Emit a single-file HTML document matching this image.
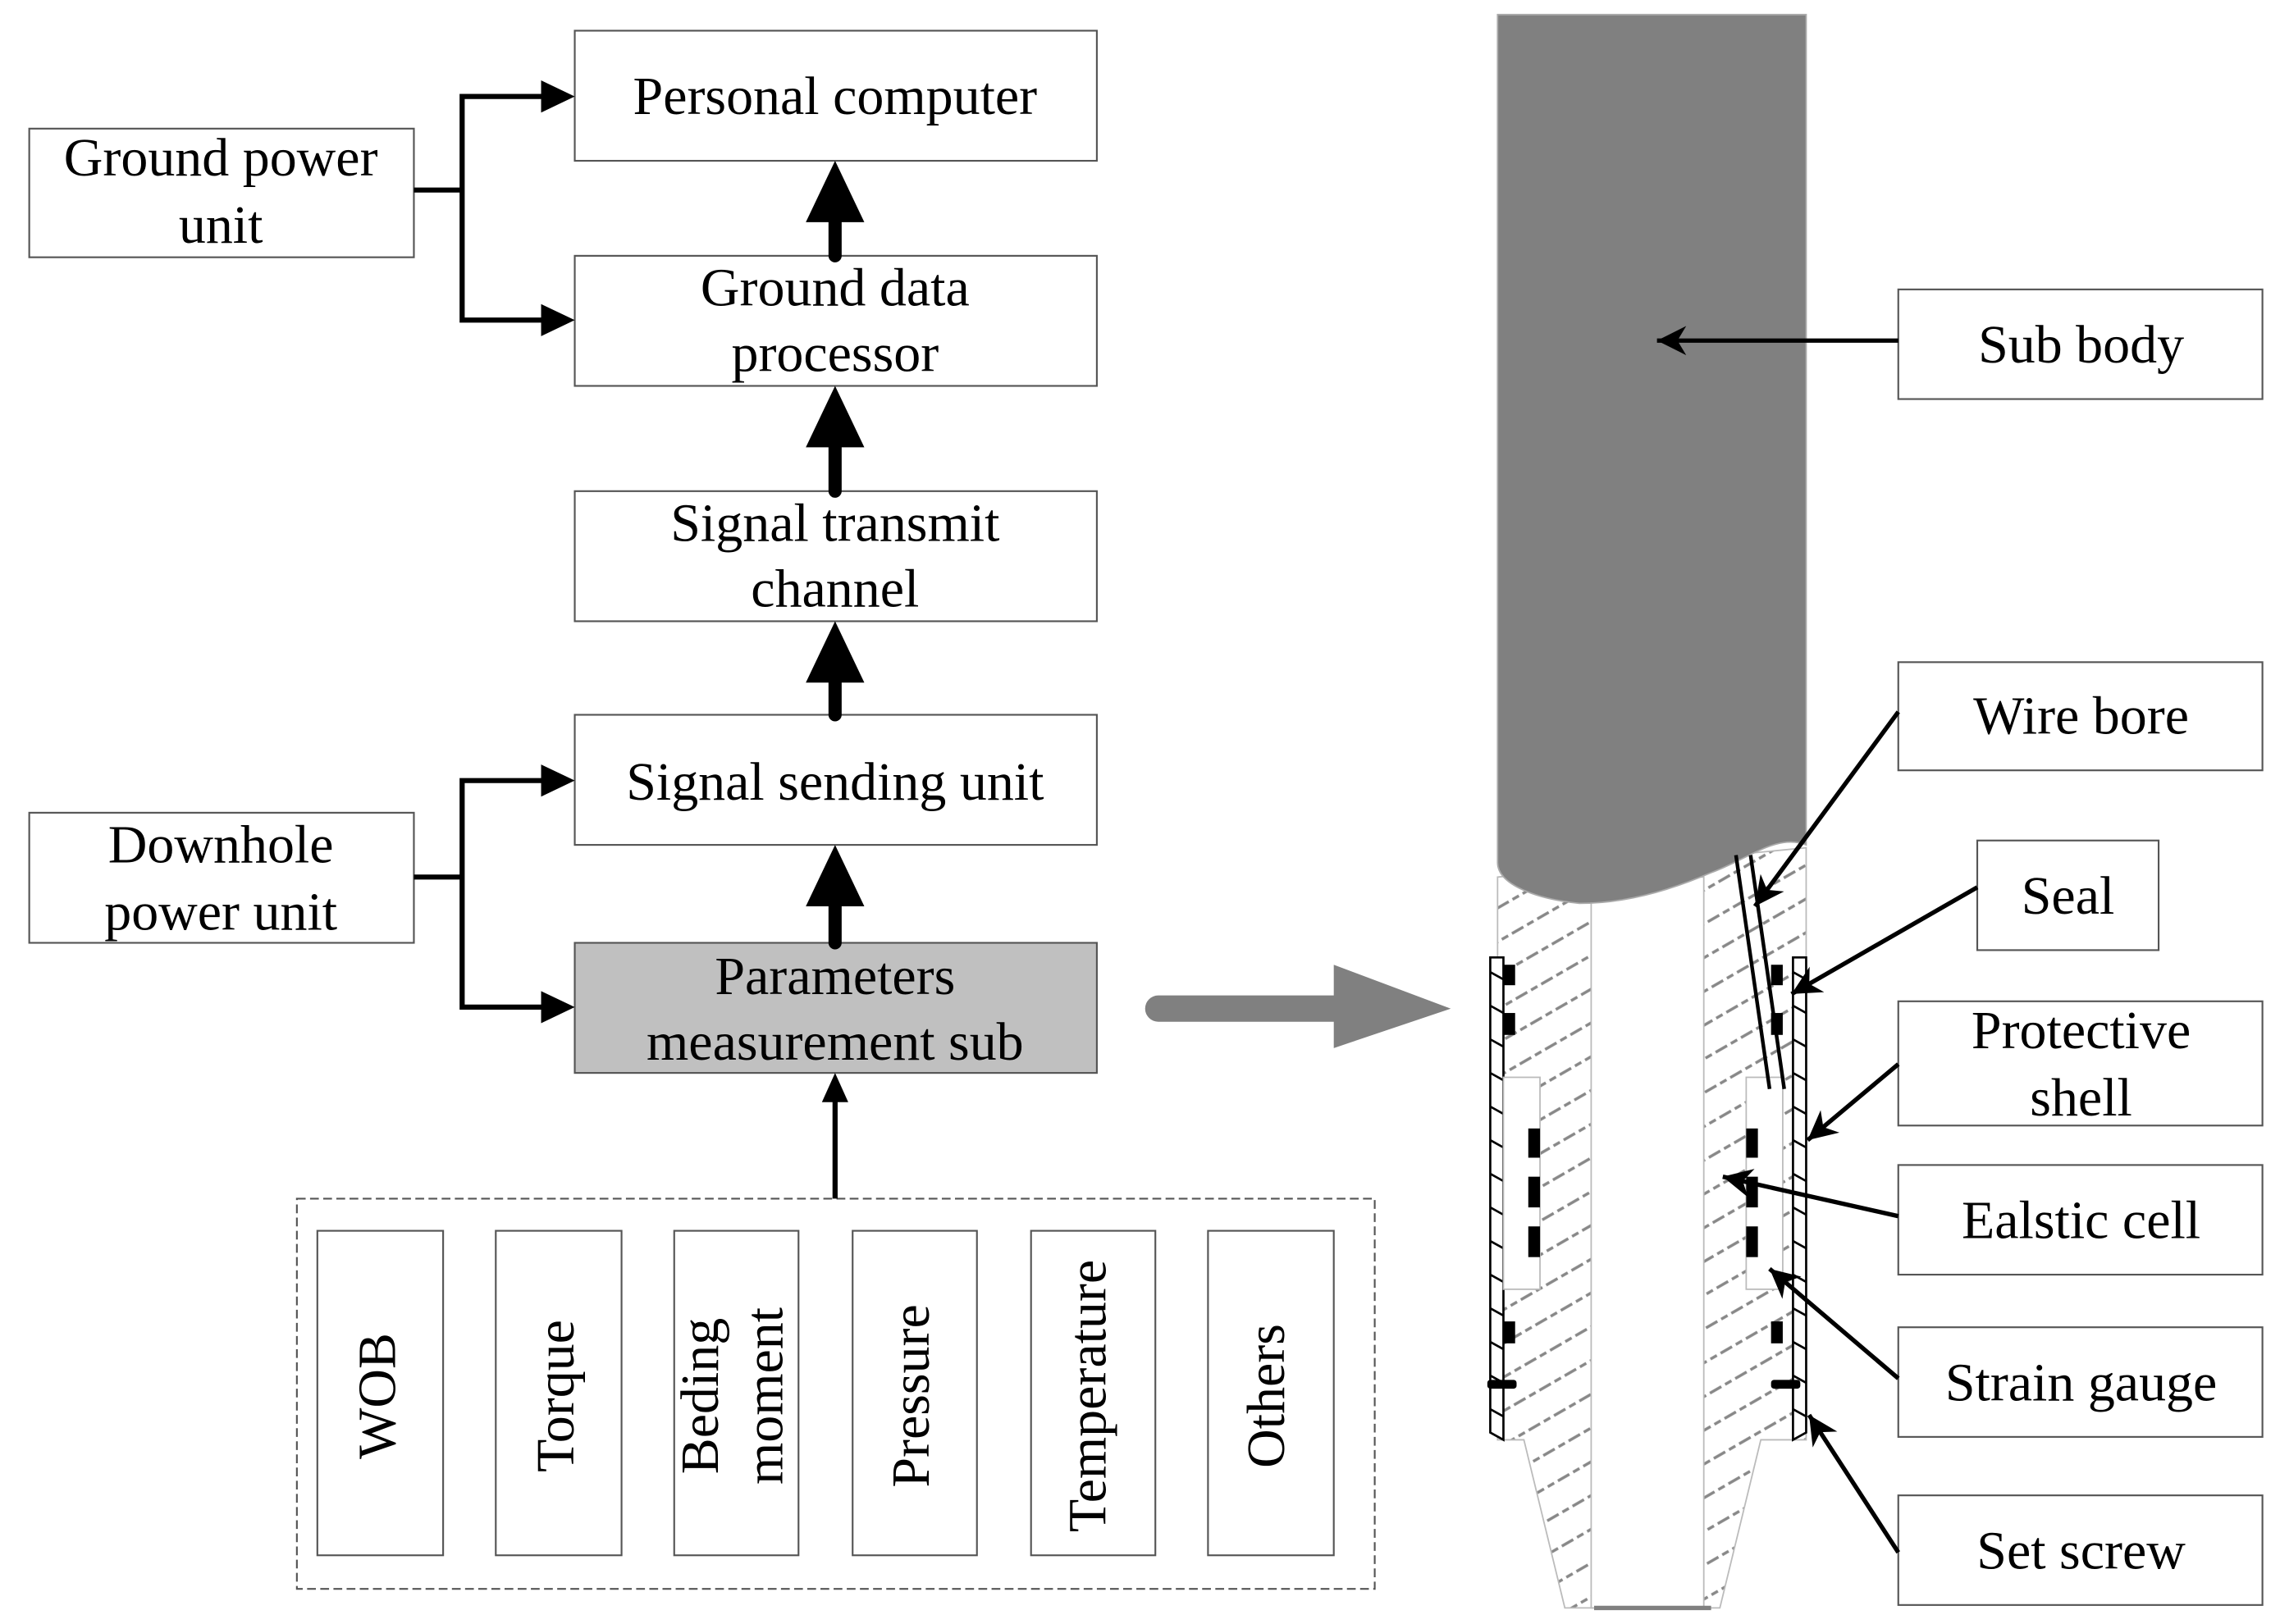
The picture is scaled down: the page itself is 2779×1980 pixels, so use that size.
<!DOCTYPE html>
<html><head><meta charset="utf-8"><style>html,body{margin:0;padding:0;background:#fff}svg{display:block}</style></head>
<body>
<svg width="2779" height="1980" viewBox="0 0 1559 1111" preserveAspectRatio="none" xmlns="http://www.w3.org/2000/svg" font-family="'Liberation Serif', serif" font-size="37" text-anchor="middle">
<defs>
<pattern id="h" patternUnits="userSpaceOnUse" width="20" height="20" patternTransform="rotate(-30)">
<line x1="0" y1="10" x2="20" y2="10" stroke="#888" stroke-width="2" stroke-dasharray="5,3"/>
</pattern>
<marker id="b" viewBox="0 0 10 10" refX="10" refY="5" markerWidth="26" markerHeight="20" orient="auto" markerUnits="userSpaceOnUse"><path d="M0,0L10,5L0,10L3,5z"/></marker>
</defs>
<g fill="#fff" stroke="#555" stroke-width="1.2">
<rect x="393" y="21" width="357" height="89"/>
<rect x="20" y="88" width="263" height="88"/>
<rect x="393" y="175" width="357" height="89"/>
<rect x="393" y="336" width="357" height="89"/>
<rect x="393" y="489" width="357" height="89"/>
<rect x="20" y="556" width="263" height="89"/>
<rect x="393" y="645" width="357" height="89" fill="#c0c0c0"/>
<rect x="203" y="820" width="737" height="267" stroke-dasharray="6,3"/>
<rect x="217" y="842" width="86" height="222"/>
<rect x="339" y="842" width="86" height="222"/>
<rect x="461" y="842" width="85" height="222"/>
<rect x="583" y="842" width="85" height="222"/>
<rect x="705" y="842" width="85" height="222"/>
<rect x="826" y="842" width="86" height="222"/>
<rect x="1298" y="198" width="249" height="75"/>
<rect x="1298" y="453" width="249" height="74"/>
<rect x="1352" y="575" width="124" height="75"/>
<rect x="1298" y="685" width="249" height="85"/>
<rect x="1298" y="797" width="249" height="75"/>
<rect x="1298" y="908" width="249" height="75"/>
<rect x="1298" y="1023" width="249" height="75"/>
</g>
<g fill="#000">
<text x="571" y="78">Personal computer</text>
<text x="151" y="120">Ground power</text><text x="151" y="166">unit</text>
<text x="571" y="209">Ground data</text><text x="571" y="254">processor</text>
<text x="571" y="370">Signal transmit</text><text x="571" y="415">channel</text>
<text x="571" y="547">Signal sending unit</text>
<text x="151" y="590">Downhole</text><text x="151" y="636">power unit</text>
<text x="571" y="680">Parameters</text><text x="571" y="725">measurement sub</text>
<text transform="translate(270,955) rotate(-90)">WOB</text>
<text transform="translate(392,955) rotate(-90)">Torque</text>
<text transform="translate(491,955) rotate(-90)">Beding</text>
<text transform="translate(535,955) rotate(-90)">moment</text>
<text transform="translate(635,955) rotate(-90)">Pressure</text>
<text transform="translate(756,955) rotate(-90)">Temperature</text>
<text transform="translate(878,955) rotate(-90)">Others</text>
<text x="1423" y="248">Sub body</text>
<text x="1423" y="502">Wire bore</text>
<text x="1414" y="625">Seal</text>
<text x="1423" y="717">Protective</text><text x="1423" y="763">shell</text>
<text x="1423" y="847">Ealstic cell</text>
<text x="1423" y="958">Strain gauge</text>
<text x="1423" y="1073">Set screw</text>
</g>
<g stroke="#000" stroke-width="3.5" fill="none">
<polyline points="283,130 316,130"/><polyline points="372,66 316,66 316,219 372,219"/>
<polyline points="283,600 316,600"/><polyline points="372,534 316,534 316,689 372,689"/>
<line x1="571" y1="820" x2="571" y2="752"/>
</g>
<g fill="#000">
<path d="M370,55L393,66L370,77z"/><path d="M370,208L393,219L370,230z"/>
<path d="M370,523L393,534L370,545z"/><path d="M370,678L393,689L370,700z"/>
<path d="M562,754L571,734L580,754z"/>
</g>
<g stroke="#000" stroke-width="9" stroke-linecap="round">
<line x1="571" y1="175" x2="571" y2="145"/>
<line x1="571" y1="336" x2="571" y2="300"/>
<line x1="571" y1="489" x2="571" y2="455"/>
<line x1="571" y1="645" x2="571" y2="610"/>
</g>
<g fill="#000">
<path d="M551,152L571,110L591,152z"/>
<path d="M551,306L571,264L591,306z"/>
<path d="M551,467L571,425L591,467z"/>
<path d="M551,620L571,578L591,620z"/>
</g>
<line x1="792" y1="690" x2="915" y2="690" stroke="#808080" stroke-width="18" stroke-linecap="round"/>
<path d="M912,660L992,690L912,717z" fill="#808080"/>
<path d="M1024,600 L1024,985 L1042,985 L1070,1100 L1176,1100 L1204,985 L1235,985 L1235,580 Z" fill="url(#h)" stroke="#bbb" stroke-width="1"/>
<rect x="1088" y="600" width="77" height="500" fill="#fff" stroke="#bbb" stroke-width="1"/>
<line x1="1090" y1="1100" x2="1170" y2="1100" stroke="#808080" stroke-width="3"/>
<path d="M1024,10 L1235,10 L1235,578 C1215,570 1195,588 1170,597 C1140,610 1110,618 1080,618 C1050,615 1024,605 1024,590 Z" fill="#808080" stroke="#aaa" stroke-width="1"/>
<g fill="#fff" stroke="#000" stroke-width="1.5">
<path d="M1019,655L1028,655L1028,985L1019,980Z"/>
<path d="M1226,655L1235,655L1235,980L1226,985Z"/>
</g>
<g stroke="#000" stroke-width="1.5">
<path d="M1019,665l9,5M1019,688l9,5M1019,711l9,5M1019,734l9,5M1019,757l9,5M1019,780l9,5M1019,803l9,5M1019,826l9,5M1019,849l9,5M1019,872l9,5M1019,895l9,5M1019,918l9,5M1019,941l9,5M1019,964l9,5"/>
<path d="M1226,665l9,5M1226,688l9,5M1226,711l9,5M1226,734l9,5M1226,757l9,5M1226,780l9,5M1226,803l9,5M1226,826l9,5M1226,849l9,5M1226,872l9,5M1226,895l9,5M1226,918l9,5M1226,941l9,5M1226,964l9,5"/>
</g>
<rect x="1028" y="737" width="25" height="145" fill="#fff" stroke="#bbb" stroke-width="1"/>
<rect x="1194" y="737" width="25" height="145" fill="#fff" stroke="#bbb" stroke-width="1"/>
<g fill="#000">
<rect x="1028" y="660" width="8" height="14"/><rect x="1028" y="693" width="8" height="15"/><rect x="1028" y="904" width="8" height="15"/>
<rect x="1211" y="660" width="8" height="14"/><rect x="1211" y="693" width="8" height="15"/><rect x="1211" y="904" width="8" height="15"/>
<rect x="1045" y="772" width="8" height="20"/><rect x="1045" y="805" width="8" height="21"/><rect x="1045" y="839" width="8" height="21"/>
<rect x="1194" y="772" width="8" height="20"/><rect x="1194" y="805" width="8" height="21"/><rect x="1194" y="839" width="8" height="21"/>
<rect x="1017" y="944" width="20" height="6" rx="2"/><rect x="1211" y="944" width="20" height="6" rx="2"/>
</g>
<g stroke="#000" stroke-width="2.5">
<line x1="1187" y1="585" x2="1210" y2="745"/><line x1="1197" y1="585" x2="1220" y2="745"/>
</g>
<g stroke="#000" stroke-width="3" marker-end="url(#b)">
<line x1="1298" y1="233" x2="1133" y2="233"/>
<line x1="1298" y1="487" x2="1200" y2="620"/>
<line x1="1352" y1="607" x2="1225" y2="680"/>
<line x1="1298" y1="728" x2="1236" y2="780"/>
<line x1="1298" y1="832" x2="1178" y2="805"/>
<line x1="1298" y1="943" x2="1210" y2="868"/>
<line x1="1298" y1="1062" x2="1237" y2="968"/>
</g>
</svg>
</body></html>
